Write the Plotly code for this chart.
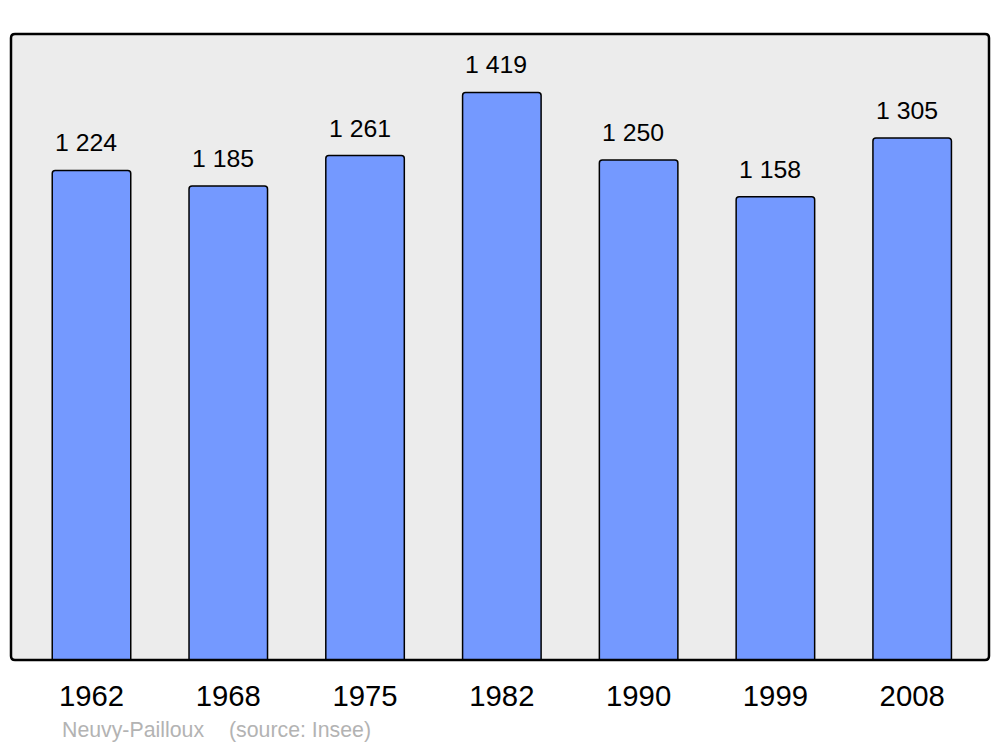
import plotly.graph_objects as go

years = ["1962", "1968", "1975", "1982", "1990", "1999", "2008"]
population = [1224, 1185, 1261, 1419, 1250, 1158, 1305]
value_labels = ["1 224", "1 185", "1 261", "1 419", "1 250", "1 158", "1 305"]
footer_place = "Neuvy-Pailloux"
footer_source = "(source: Insee)"

W, H = 1000, 747
L, R, T, B = 11, 11, 34, 87
pw, ph = W - L - R, H - T - B
FONT = "Liberation Sans, Arial, sans-serif"

xpos = list(range(len(years)))

fig = go.Figure()
fig.add_trace(go.Bar(
    x=xpos, y=population, width=0.574,
    marker=dict(color="#7499ff", line=dict(color="#000000", width=1.5), cornerradius=3),
    hoverinfo="skip",
))

for xi, v, t in zip(xpos, population, value_labels):
    fig.add_annotation(x=xi, y=v, text=t, showarrow=False, xref="x", yref="y",
                       yanchor="bottom", xanchor="center", xshift=-5.5, yshift=12,
                       font=dict(family=FONT, size=24.8, color="#000000"))

# rounded border of the plot area
rx, ry = 4 / pw, 4 / ph
path = (f"M {rx},0 L {1-rx},0 Q 1,0 1,{ry} L 1,{1-ry} Q 1,1 {1-rx},1 "
        f"L {rx},1 Q 0,1 0,{1-ry} L 0,{ry} Q 0,0 {rx},0 Z")
fig.add_shape(type="path", path=path, xref="paper", yref="paper",
              line=dict(color="#000000", width=2.5), fillcolor="rgba(0,0,0,0)", layer="above")

fig.add_annotation(x=(60 - L) / pw, y=-(730 - T - ph) / ph, xref="paper", yref="paper",
                   text=footer_place, showarrow=False, xanchor="left", yanchor="middle",
                   font=dict(family=FONT, size=21.3, color="#b3b3b3"))
fig.add_annotation(x=(227 - L) / pw, y=-(730 - T - ph) / ph, xref="paper", yref="paper",
                   text=footer_source, showarrow=False, xanchor="left", yanchor="middle",
                   font=dict(family=FONT, size=21.3, color="#b3b3b3"))

fig.update_layout(
    width=W, height=H,
    margin=dict(l=L, r=R, t=T, b=B, pad=0),
    paper_bgcolor="#ffffff", plot_bgcolor="#ececec",
    showlegend=False,
    xaxis=dict(range=[-0.5885, 6.5616], tickmode="array", tickvals=xpos, ticktext=years,
               showgrid=False, zeroline=False, showline=False, ticks="",
               ticklabelstandoff=16,
               tickfont=dict(family=FONT, size=29.3, color="#000000"), fixedrange=True),
    yaxis=dict(range=[0, 1565], showgrid=False, zeroline=False, showline=False,
               showticklabels=False, ticks="", fixedrange=True),
)

fig.write_html("out.html", config={"displayModeBar": False},
               post_script="document.body.style.margin='0';document.body.style.overflow='hidden';")
